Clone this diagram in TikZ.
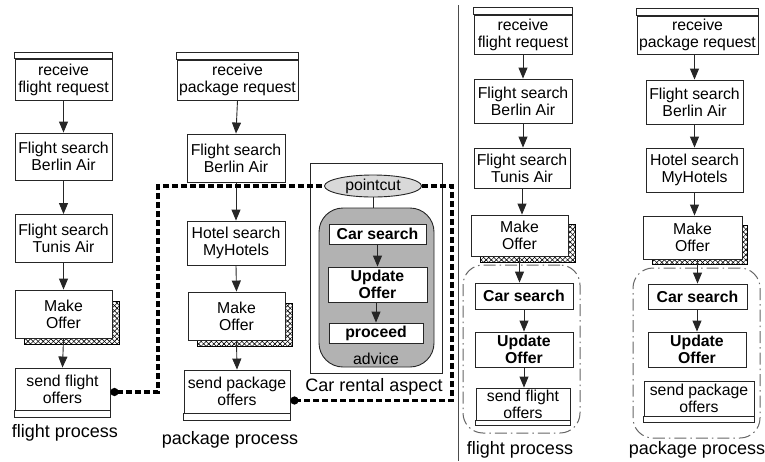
\documentclass[tikz,border=0pt]{standalone}
\usepackage{fontspec}
\setmainfont{Liberation Sans}
\usetikzlibrary{arrows.meta,shapes.geometric,patterns.meta,backgrounds,calc}
\newcommand\bxfont{\fontsize{15.8}{17}\selectfont}
\newcommand\lbfont{\fontsize{18}{20}\selectfont}
\tikzset{
 bx/.style={draw=black!85, line width=0.9pt, fill=white, align=center, inner sep=0pt, font=\bxfont},
 bbx/.style={bx, font=\bxfont\bfseries},
 arr/.style={draw=black!85, line width=0.9pt, -{Triangle[length=11pt,width=9pt]}},
 bandst/.style={draw=black!85, line width=0.9pt, fill=white},
 hatch/.style={draw=black, line width=0.7pt, fill=white,
   postaction={pattern={Lines[angle=45,distance=3.6pt,line width=0.6pt]}},
   postaction={pattern={Lines[angle=-45,distance=3.6pt,line width=0.6pt]}}},
 aspl/.style={line width=3.2pt, dash pattern=on 6pt off 3pt, black},
 dd/.style={draw=black!60, line width=1pt, dash pattern=on 12pt off 4pt on 1.5pt off 4pt, rounded corners=20pt},
 lbl/.style={font=\lbfont, inner sep=0pt},
}
\begin{document}
\begin{tikzpicture}[x=1pt,y=-1pt]
\useasboundingbox (0,0) rectangle (765,461);

% ---------- left: flight process ----------
\node[bx, minimum width=97pt, minimum height=41pt] (f1) at (63.5,79.5) {receive\\flight request};
\draw[bandst] (f1.north west) rectangle ([yshift=6pt]f1.north east);
\node[bx, minimum width=97pt, minimum height=47pt] (f2) at (63.5,156.5) {Flight search\\Berlin Air};
\node[bx, minimum width=97pt, minimum height=48pt] (f3) at (63.5,238.5) {Flight search\\Tunis Air};
\node[bx, minimum width=97pt, minimum height=48pt] (f4) at (63.5,314) {Make\\Offer};
\node[bx, minimum width=95pt, minimum height=42pt] (f5) at (62.5,389) {send flight\\offers};
\draw[bandst] (f5.south west) rectangle ([yshift=-7pt]f5.south east);
\node[lbl] (lf) at (65,433) {flight process};
\draw[arr] (f1.south) -- (f2.north);
\draw[arr] (f2.south) -- (f3.north);
\draw[arr] (f3.south) -- (f4.north);
\draw[arr] (f4.south) -- (f5.north);

% ---------- middle: package process ----------
\node[bx, minimum width=121pt, minimum height=40pt] (p1) at (237.5,80) {receive\\package request};
\draw[bandst] (p1.north west) rectangle ([yshift=7pt]p1.north east);
\node[bx, minimum width=98pt, minimum height=48pt] (p2) at (236,158) {Flight search\\Berlin Air};
\node[bx, minimum width=98pt, minimum height=44pt] (p3) at (236,243) {Hotel search\\MyHotels};
\node[bx, minimum width=97pt, minimum height=48pt] (p4) at (236.5,316) {Make\\Offer};
\node[bx, minimum width=106pt, minimum height=43pt] (p5) at (237,391.5) {send package\\offers};
\draw[bandst] (p5.south west) rectangle ([yshift=-7pt]p5.south east);
\node[lbl] (lp) at (230,440) {package process};
\draw[arr] (p1.south) -- (p2.north);
\draw[arr] (p2.south) -- (p3.north);
\draw[arr] (p3.south) -- (p4.north);
\draw[arr] (p4.south) -- (p5.north);

% ---------- car rental aspect ----------
\node[draw=black!85, line width=0.9pt, minimum width=132pt, minimum height=210pt] (asp) at (376,268) {};
\node[lbl] (lasp) at (374,387) {Car rental aspect};
\node[draw=black!85, line width=0.9pt, fill=black!30, rounded corners=24pt, minimum width=115pt, minimum height=159pt] (adv) at (376.5,287.5) {};
\node[draw=black!85, line width=0.9pt, fill=black!15, ellipse, minimum width=97pt, minimum height=22pt, inner sep=0pt, font=\bxfont] (pc) at (373,186) {pointcut};
\draw[draw=black!85, line width=0.9pt] (pc.south) -- (adv.north -| pc.south);
\node[bbx, minimum width=97pt, minimum height=20pt] (cs) at (377.5,234) {Car search};
\node[bbx, minimum width=99pt, minimum height=35pt] (uo) at (377.5,284.5) {Update\\Offer};
\node[bbx, minimum width=94pt, minimum height=20pt] (pr) at (376,333) {proceed};
\node[font=\bxfont, inner sep=0pt] (advl) at (376,359) {advice};
\draw[arr] (cs.south -| uo.north) -- (uo.north);
\draw[arr] (uo.south -| pr.north) -- (pr.north);

% dashed aspect connectors
\coordinate (k1) at (158,186);
\coordinate (k2) at (452,400);
\draw[aspl, {Circle[length=8pt]}-] ([yshift=-3pt]f5.east) -| (k1) -- (pc.west);
\draw[aspl, -{Circle[length=8pt]}] (pc.east) -| (k2) |- ([yshift=-9pt]p5.east);

% separator
\draw[black!70, line width=1pt] (458,5) -- (458,461);

% ---------- right: woven flight process ----------
\node[dd, minimum width=117pt, minimum height=168pt] (gf) at (521.5,349) {};
\node[bx, minimum width=98pt, minimum height=39pt] (rf1) at (523,34.5) {receive\\flight request};
\draw[bandst] (rf1.north west) rectangle ([yshift=7pt]rf1.north east);
\node[bx, minimum width=98pt, minimum height=44pt] (rf2) at (523,101) {Flight search\\Berlin Air};
\node[bx, minimum width=96pt, minimum height=40pt] (rf3) at (522,168) {Flight search\\Tunis Air};
\node[bx, minimum width=97pt, minimum height=41pt] (rf4) at (519.5,235.5) {Make\\Offer};
\node[bbx, minimum width=98pt, minimum height=26pt] (rf5) at (524,296) {Car search};
\node[bbx, minimum width=98pt, minimum height=35pt] (rf6) at (524,349.5) {Update\\Offer};
\node[bx, minimum width=94pt, minimum height=32pt] (rf7) at (523,404) {send flight\\offers};
\draw[bandst] (rf7.south west) rectangle ([yshift=-5pt]rf7.south east);
\node[lbl] (lrf) at (520,450) {flight process};
\draw[arr] (rf1.south) -- (rf2.north);
\draw[arr] (rf2.south) -- (rf3.north -| rf2.south);
\draw[arr] (rf3.south) -- (rf4.north -| rf3.south);
\draw[arr] (rf4.south) -- (rf5.north -| rf4.south);
\draw[arr] (rf5.south) -- (rf6.north);
\draw[arr] (rf6.south) -- (rf7.north -| rf6.south);

% ---------- right: woven package process ----------
\node[dd, minimum width=127pt, minimum height=170pt] (gp) at (696.5,353) {};
\node[bx, minimum width=121pt, minimum height=38pt] (rp1) at (697.5,35) {receive\\package request};
\draw[bandst] (rp1.north west) rectangle ([yshift=7pt]rp1.north east);
\node[bx, minimum width=97pt, minimum height=44pt] (rp2) at (694.5,102) {Flight search\\Berlin Air};
\node[bx, minimum width=97pt, minimum height=44pt] (rp3) at (694.5,170) {Hotel search\\MyHotels};
\node[bx, minimum width=99pt, minimum height=43pt] (rp4) at (692.5,237.5) {Make\\Offer};
\node[bbx, minimum width=99pt, minimum height=25pt] (rp5) at (697.5,296.5) {Car search};
\node[bbx, minimum width=98pt, minimum height=35pt] (rp6) at (697,349.5) {Update\\Offer};
\node[bx, minimum width=110pt, minimum height=35pt] (rp7) at (699,398.5) {send package\\offers};
\draw[bandst] (rp7.south west) rectangle ([yshift=-6pt]rp7.south east);
\node[lbl] (lrp) at (697,450) {package process};
\draw[arr] (rp1.south -| rp2.north) -- (rp2.north);
\draw[arr] (rp2.south) -- (rp3.north);
\draw[arr] (rp3.south) -- (rp4.north -| rp3.south);
\draw[arr] (rp4.south -| rp5.north) -- (rp5.north);
\draw[arr] (rp5.south -| rp6.north) -- (rp6.north);

% ---------- hatched shadows ----------
\begin{scope}[on background layer]
\draw[hatch] ($(f4.north west)+(10,12)$) rectangle ($(f4.south east)+(7,6)$);
\draw[hatch] ($(p4.north west)+(10,12)$) rectangle ($(p4.south east)+(7,6)$);
\draw[hatch] ($(rf4.north west)+(10,10)$) rectangle ($(rf4.south east)+(7,6)$);
\draw[hatch] ($(rp4.north west)+(10,10)$) rectangle ($(rp4.south east)+(5,5)$);
\end{scope}
\end{tikzpicture}
\end{document}
